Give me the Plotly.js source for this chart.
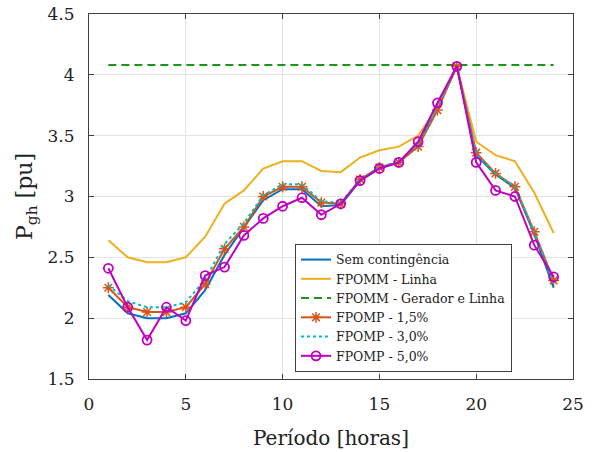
<!DOCTYPE html>
<html>
<head>
<meta charset="utf-8">
<script src="https://cdn.plot.ly/plotly-3.0.1.min.js"></script>
<style>html,body{margin:0;padding:0;background:#fff;}#chart{width:596px;height:452px;}</style>
</head>
<body>
<div id="chart"></div>
<script>
var hours = [1,2,3,4,5,6,7,8,9,10,11,12,13,14,15,16,17,18,19,20,21,22,23,24];
var semContingencia = [2.19,2.04,2.00,2.00,2.04,2.23,2.52,2.74,2.97,3.06,3.06,2.92,2.93,3.13,3.23,3.28,3.44,3.74,4.07,3.34,3.18,3.07,2.69,2.25];
var fpommLinha = [2.64,2.50,2.46,2.46,2.50,2.67,2.94,3.05,3.23,3.29,3.29,3.21,3.20,3.32,3.38,3.41,3.50,3.73,4.07,3.45,3.34,3.29,3.03,2.70];
var fpommGeradorLinha = [4.08,4.08,4.08,4.08,4.08,4.08,4.08,4.08,4.08,4.08,4.08,4.08,4.08,4.08,4.08,4.08,4.08,4.08,4.08,4.08,4.08,4.08,4.08,4.08];
var fpomp15 = [2.25,2.09,2.05,2.05,2.09,2.28,2.57,2.75,3.00,3.08,3.08,2.95,2.94,3.14,3.24,3.28,3.41,3.71,4.07,3.36,3.19,3.08,2.71,2.31];
var fpomp30 = [2.27,2.14,2.09,2.09,2.13,2.32,2.61,2.78,3.01,3.10,3.10,2.96,2.95,3.14,3.24,3.29,3.43,3.73,4.07,3.35,3.19,3.08,2.71,2.28];
var fpomp50 = [2.41,2.09,1.82,2.09,1.98,2.35,2.42,2.68,2.82,2.92,2.99,2.85,2.94,3.13,3.23,3.28,3.45,3.77,4.07,3.28,3.05,3.00,2.60,2.34];
var seriesNames = ['Sem contingência','FPOMM - Linha','FPOMM - Gerador e Linha','FPOMP - 1,5%','FPOMP - 3,0%','FPOMP - 5,0%'];
var xTicks = [0,5,10,15,20,25];
var xTickText = ['0','5','10','15','20','25'];
var yTicks = [1.5,2,2.5,3,3.5,4,4.5];
var yTickText = ['1.5','2','2.5','3','3.5','4','4.5'];

var serif = 'DejaVu Serif, serif';
var traces = [
  {x: hours, y: semContingencia, name: seriesNames[0], mode: 'lines', line: {color: '#0072BD', width: 2}},
  {x: hours, y: fpommLinha, name: seriesNames[1], mode: 'lines', line: {color: '#EDB120', width: 2}},
  {x: hours, y: fpommGeradorLinha, name: seriesNames[2], mode: 'lines', line: {color: '#1A961A', width: 2, dash: '8px,5px'}},
  {x: hours, y: fpomp15, name: seriesNames[3], mode: 'lines+markers', line: {color: '#D95319', width: 2},
   marker: {symbol: 'asterisk-open', size: 9, color: '#D95319', line: {color: '#D95319', width: 1.5}}},
  {x: hours, y: fpomp30, name: seriesNames[4], mode: 'lines', line: {color: '#00BFBF', width: 2, dash: 'dot'}},
  {x: hours, y: fpomp50, name: seriesNames[5], mode: 'lines+markers', line: {color: '#BF00BF', width: 2},
   marker: {symbol: 'circle-open', size: 9, color: '#BF00BF', line: {color: '#BF00BF', width: 1.8}}}
];
var axisCommon = {
  showline: true, linecolor: '#404040', linewidth: 1, mirror: 'ticks',
  ticks: 'inside', ticklen: 5, tickcolor: '#404040',
  showgrid: true, gridcolor: '#e3e3e3', gridwidth: 1, zeroline: false,
  tickfont: {family: serif, size: 17, color: '#222'}
};
var layout = {
  width: 596, height: 452,
  margin: {l: 89, r: 23, t: 14, b: 73},
  paper_bgcolor: '#fff', plot_bgcolor: '#fff',
  showlegend: true,
  xaxis: Object.assign({}, axisCommon, {range: [0,25], tickvals: xTicks, ticktext: xTickText, ticklabelstandoff: 10,
    title: {text: 'Período [horas]', font: {family: serif, size: 20, color: '#222'}, standoff: 17}}),
  yaxis: Object.assign({}, axisCommon, {range: [1.5,4.5], tickvals: yTicks, ticktext: yTickText, ticklabelstandoff: 10,
    title: {text: 'P<sub>gh</sub> [pu]', font: {family: serif, size: 22, color: '#222'}, standoff: 8}}),
  legend: {x: 0.4256, y: 0.37, xanchor: 'left', yanchor: 'top', bgcolor: '#fff', bordercolor: '#404040', borderwidth: 1,
    font: {family: serif, size: 12.5, color: '#222'}, tracegroupgap: 0, itemwidth: 30}
};
Plotly.newPlot('chart', traces, layout, {displayModeBar: false, staticPlot: true});
</script>
</body>
</html>
